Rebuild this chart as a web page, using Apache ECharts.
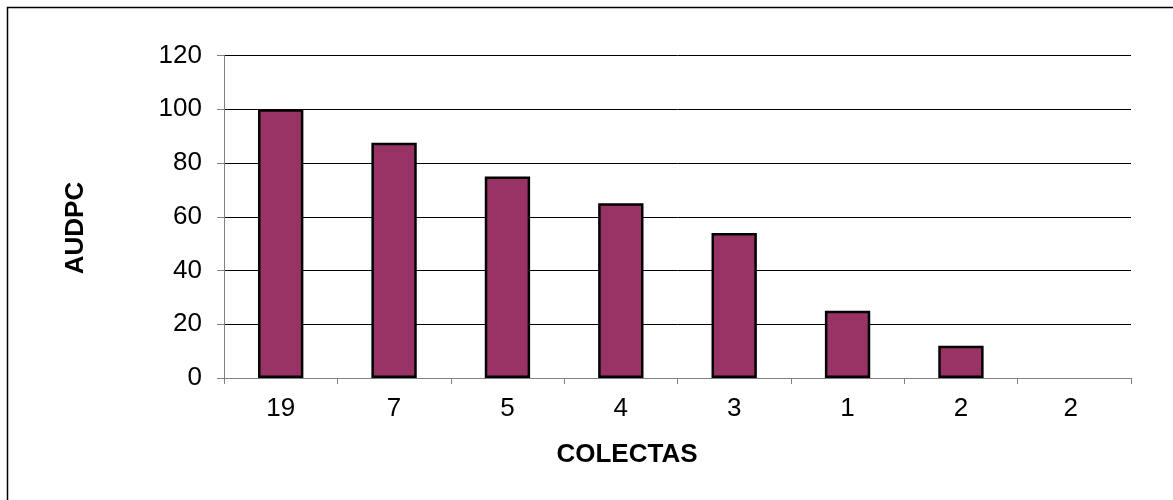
<!DOCTYPE html>
<html>
<head>
<meta charset="utf-8">
<script src="https://cdn.jsdelivr.net/npm/echarts@6/dist/echarts.min.js"></script>
<style>
  html, body { margin: 0; padding: 0; background: #ffffff; }
  #chart { width: 1173px; height: 500px; }
</style>
</head>
<body>
<div id="chart"></div>
<script>
// Number of collections per group and the AUDPC of each group
const categories = ['19', '7', '5', '4', '3', '1', '2', '2 '];
const audpc = [100, 87.5, 75, 65, 54, 25, 12, 0];
const yTicks = { min: 0, max: 120, interval: 20 };

const chart = echarts.init(document.getElementById('chart'), null, { renderer: 'canvas' });
const font = 'Liberation Sans, Arial, sans-serif';

// Zero-height bars get no outline so they do not draw a stray line on the axis
const barData = audpc.map(v => ({
  value: v,
  itemStyle: v === 0 ? { borderWidth: 0 } : undefined
}));

chart.setOption({
  animation: false,
  backgroundColor: '#ffffff',
  grid: { left: 224, right: 42, top: 55.5, bottom: 122 },
  xAxis: {
    type: 'category',
    data: categories,
    boundaryGap: true,
    axisLine: { lineStyle: { color: '#808080', width: 1 } },
    axisTick: { show: true, alignWithLabel: false, length: 6, inside: false, lineStyle: { color: '#808080' } },
    axisLabel: { color: '#000', fontFamily: font, fontSize: 26, margin: 18 },
    splitLine: { show: false }
  },
  yAxis: {
    type: 'value',
    min: yTicks.min,
    max: yTicks.max,
    interval: yTicks.interval,
    axisLine: { show: true, lineStyle: { color: '#808080', width: 1 } },
    axisTick: { show: true, length: 7, lineStyle: { color: '#808080' } },
    axisLabel: { color: '#000', fontFamily: font, fontSize: 26, margin: 22 },
    splitLine: { show: true, lineStyle: { color: '#000', width: 1 } }
  },
  series: [{
    type: 'bar',
    data: barData,
    barWidth: '40%',
    itemStyle: { color: '#993366', borderColor: '#000', borderWidth: 2.5 }
  }],
  graphic: [
    {
      type: 'rect',
      silent: true,
      z: -1,
      shape: { x: 7.5, y: 7.5, width: 1200, height: 520 },
      style: { fill: 'none', stroke: '#000', lineWidth: 1.5 }
    },
    {
      type: 'text',
      x: 627, y: 455,
      style: { text: 'COLECTAS', fill: '#000', font: 'bold 26px ' + font, textAlign: 'center', textVerticalAlign: 'middle' }
    },
    {
      type: 'text',
      x: 76, y: 228,
      rotation: Math.PI / 2,
      style: { text: 'AUDPC', fill: '#000', font: 'bold 26px ' + font, textAlign: 'center', textVerticalAlign: 'middle' }
    }
  ]
});
</script>
</body>
</html>
